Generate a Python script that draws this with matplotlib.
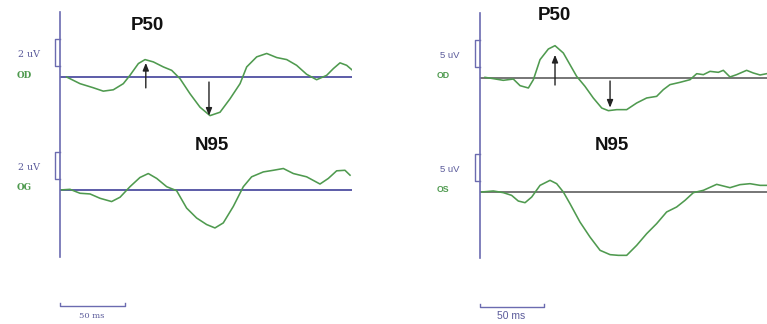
import matplotlib
matplotlib.use("Agg")
import matplotlib.pyplot as plt
from matplotlib.lines import Line2D

W, H = 767, 324

# ---- data: time (ms), amplitude (uV) ----
left_od_t = [5.1, 15.4, 25.6, 33.3, 41.0, 48.7, 53.8, 60.3, 65.4, 71.8, 79.5, 85.9,
             92.3, 100.0, 107.7, 115.4, 123.1, 130.8, 138.5, 143.6, 151.3, 159.0,
             166.7, 174.4, 182.0, 189.7, 197.4, 205.1, 210.3, 215.4, 220.5, 224.4]
left_od_a = [0.0, -0.49, -0.79, -1.04, -0.94, -0.49, 0.12, 0.99, 1.28, 1.11, 0.74, 0.49,
             -0.12, -1.23, -2.22, -2.84, -2.59, -1.60, -0.49, 0.74, 1.48, 1.73,
             1.43, 1.28, 0.86, 0.20, -0.20, 0.12, 0.62, 1.04, 0.86, 0.54]

left_og_t = [0.0, 7.7, 15.4, 23.1, 30.8, 39.7, 46.2, 53.8, 61.5, 67.9, 74.4, 82.1,
             89.7, 97.4, 105.1, 112.8, 119.2, 125.6, 133.3, 141.0, 147.4, 156.4,
             164.1, 171.8, 179.5, 189.7, 200.0, 206.4, 212.8, 219.2, 223.1]
left_og_a = [0.0, 0.05, -0.24, -0.29, -0.61, -0.85, -0.53, 0.24, 0.92, 1.21, 0.85, 0.24,
             -0.05, -1.33, -2.06, -2.54, -2.79, -2.42, -1.21, 0.24, 0.97, 1.33,
             1.45, 1.58, 1.21, 0.97, 0.44, 0.85, 1.41, 1.45, 1.09]

right_od_t = [3.9, 10.4, 18.2, 26.0, 31.3, 37.8, 41.7, 46.9, 53.4, 58.6, 65.1, 70.3,
              75.5, 82.0, 88.5, 95.1, 100.3, 106.8, 114.6, 122.4, 130.2, 138.0,
              143.2, 148.4, 156.3, 164.1, 169.3, 174.5, 179.7, 186.2, 190.1, 195.3,
              200.5, 208.3, 213.5, 218.8, 224.0]
right_od_a = [0.12, -0.12, -0.43, -0.19, -1.42, -1.85, -0.31, 3.40, 5.37, 5.99, 4.63, 2.47,
              0.31, -1.54, -3.70, -5.56, -6.05, -5.86, -5.86, -4.63, -3.70, -3.40,
              -2.16, -1.23, -0.80, -0.31, 0.80, 0.62, 1.23, 1.05, 1.42, 0.19,
              0.62, 1.42, 0.93, 0.56, 0.80]

right_os_t = [1.3, 10.4, 18.2, 24.7, 29.9, 35.2, 40.4, 46.9, 54.7, 59.9, 65.1, 70.3,
              78.1, 85.9, 93.8, 101.6, 108.1, 114.6, 122.4, 130.2, 138.0, 145.8,
              153.6, 160.2, 166.7, 174.5, 184.9, 195.3, 203.1, 210.9, 218.8, 224.0]
right_os_a = [0.0, 0.19, -0.12, -0.62, -1.67, -1.98, -0.93, 1.23, 2.16, 1.54, 0.0, -2.16,
              -5.56, -8.33, -10.80, -11.60, -11.73, -11.73, -9.88, -7.72, -5.86, -3.70,
              -2.78, -1.54, -0.12, 0.31, 1.42, 0.80, 1.36, 1.54, 1.23, 1.23]

# arrows: (time, tail amplitude, tip amplitude)
left_arrows = [(66.0, -0.8, 1.04), (114.6, -0.37, -2.85)]
right_arrows = [(58.6, -1.3, 4.3), (101.6, -0.56, -5.5)]

left_scale_uv = 2
right_scale_uv = 5
scale_ms = 50

GREEN = "#4f9a4f"
AXIS = "#6b6bb0"
BASE_L = "#5c5ca8"
BASE_R = "#767676"
LBL = "#5a5a9a"

fig = plt.figure(figsize=(W / 100, H / 100), dpi=100)
fig.patch.set_facecolor("white")


def fx(x):
    return x / W


def fy(y):
    return 1 - y / H


def trace_axes(x0, x1, base_y, px_ms, px_uv, h=300):
    ax = fig.add_axes([fx(x0), fy(base_y + h / 2), (x1 - x0) / W, h / H])
    ax.set_xlim(0, (x1 - x0) / px_ms)
    ax.set_ylim(-h / 2 / px_uv, h / 2 / px_uv)
    ax.axis("off")
    ax.patch.set_alpha(0)
    return ax


def vline(x, y0, y1, color):
    fig.add_artist(Line2D([fx(x), fx(x)], [fy(y0), fy(y1)], color=color, lw=1.2,
                          transform=fig.transFigure))


def panel(x0, x1, bases, px_ms, px_uv, traces, scale_uv, base_col, names, serif):
    axes = []
    fam = "DejaVu Serif" if serif else "Liberation Sans"
    for base_y, (t, a), name in zip(bases, traces, names):
        ax = trace_axes(x0, x1, base_y, px_ms, px_uv)
        ax.axhline(0, color=base_col, lw=1.4)
        ax.plot(t, a, color=GREEN, lw=1.15)
        # amplitude calibration bracket
        bx = -5 / px_ms
        lo = 11 / px_uv
        ax.plot([0, bx, bx, 0], [lo, lo, lo + scale_uv, lo + scale_uv],
                color=AXIS, lw=1.0, clip_on=False)
        ax.text(-20 / px_ms, lo + scale_uv / 2 - 2 / px_uv, f"{scale_uv} uV", ha="right",
                va="center", fontsize=6.8, color=LBL, family=fam)
        ax.text(-43 / px_ms, 2 / px_uv, name, ha="left", va="center", fontsize=6.3,
                color=GREEN, fontweight="bold", family=fam)
        axes.append(ax)
    return axes


# left panel
vline(60, 12, 257, AXIS)
lax = panel(60, 352, [77, 190], 1.3, 13.6, [(left_od_t, left_od_a), (left_og_t, left_og_a)],
            left_scale_uv, BASE_L, ["OD", "OG"], True)
# right panel
vline(480, 13, 258, AXIS)
rax = panel(480, 767, [78, 192], 1.28, 5.4, [(right_od_t, right_od_a), (right_os_t, right_os_a)],
            right_scale_uv, BASE_R, ["OD", "OS"], False)

for ax, arrows in [(lax[0], left_arrows), (rax[0], right_arrows)]:
    for t, a0, a1 in arrows:
        ax.annotate("", xy=(t, a1), xytext=(t, a0),
                    arrowprops=dict(arrowstyle="-|>,head_length=0.45,head_width=0.18",
                                    color="#222222", lw=1.0, shrinkA=0, shrinkB=0))

# time scale bars
for ax, base_y, bar_y, fs, fam, tx, px_uv in [(lax[1], 190, 306, 6, "DejaVu Serif", 92, 13.6),
                                              (rax[1], 192, 307, 7.5, "Liberation Sans", 511, 5.4)]:
    yb = (base_y - bar_y) / px_uv
    tick = 3 / px_uv
    ax.plot([0, 0, scale_ms, scale_ms], [yb + tick, yb, yb, yb + tick],
            color=AXIS, lw=1.0, clip_on=False)
    fig.text(fx(tx), fy(316), f"{scale_ms} ms", ha="center", va="center",
             fontsize=fs, color=LBL, family=fam)

# peak labels
for x, y, s in [(147, 25, "P50"), (212, 145, "N95"), (554, 16, "P50"), (612, 146, "N95")]:
    fig.text(fx(x), fy(y), s, ha="center", va="center", fontsize=13.5,
             fontweight="bold", family="Liberation Sans", color="#111111")

fig.savefig("out.png", dpi=100)
